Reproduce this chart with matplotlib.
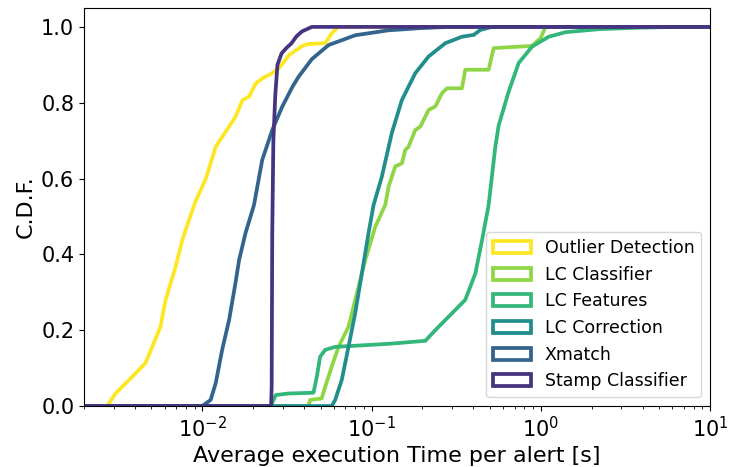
import numpy as np
import matplotlib
matplotlib.use("Agg")
from matplotlib import pyplot as plt
from matplotlib.patches import Patch

# execution time per alert [s] and cumulative fraction for each pipeline step
outlier_t = [2e-3, 2.74e-3, 3.07e-3, 3.85e-3, 4.61e-3, 5.06e-3, 5.66e-3, 6.07e-3, 6.95e-3,
             7.62e-3, 8.34e-3, 9.12e-3, 0.0105, 0.0120, 0.0144, 0.0157, 0.0173, 0.0189,
             0.0207, 0.0226, 0.0259, 0.0284, 0.0326, 0.0391, 0.0424, 0.0532, 0.0582,
             0.0638, 10.0]
outlier_cdf = [0.0, 0.0, 0.033, 0.077, 0.113, 0.156, 0.209, 0.28, 0.367,
               0.438, 0.49, 0.54, 0.60, 0.684, 0.737, 0.763, 0.807, 0.816,
               0.851, 0.864, 0.878, 0.891, 0.926, 0.95, 0.955, 0.957, 0.983,
               1.0, 1.0]

lc_classifier_t = [2e-3, 0.0424, 0.0434, 0.0508, 0.0532, 0.0582, 0.0638, 0.0731, 0.0801,
                   0.0919, 0.1052, 0.1205, 0.1262, 0.1381, 0.1511, 0.1582, 0.1655, 0.1814,
                   0.1943, 0.2175, 0.2381, 0.2608, 0.2791, 0.342, 0.358, 0.492, 0.527,
                   0.889, 0.996, 1.067, 10.0]
lc_classifier_cdf = [0.0, 0.0, 0.016, 0.02, 0.05, 0.104, 0.156, 0.209, 0.28,
                     0.385, 0.473, 0.53, 0.579, 0.632, 0.64, 0.675, 0.684, 0.728,
                     0.737, 0.781, 0.79, 0.825, 0.838, 0.838, 0.887, 0.887, 0.944,
                     0.95, 0.97, 1.0, 1.0]

lc_features_t = [2e-3, 0.0254, 0.0272, 0.0323, 0.0454, 0.0475, 0.0497, 0.0532, 0.0610,
                 0.0801, 0.126, 0.208, 0.238, 0.286, 0.358, 0.411, 0.450, 0.492, 0.539,
                 0.564, 0.647, 0.741, 0.889, 1.114, 1.40, 2.20, 3.80, 6.56, 10.0]
lc_features_cdf = [0.0, 0.0, 0.029, 0.033, 0.035, 0.077, 0.13, 0.148, 0.156,
                   0.159, 0.164, 0.172, 0.2, 0.236, 0.28, 0.35, 0.438, 0.53, 0.684,
                   0.74, 0.83, 0.905, 0.948, 0.974, 0.986, 0.994, 0.998, 1.0, 1.0]

lc_correction_t = [2e-3, 0.0582, 0.0610, 0.0667, 0.0731, 0.0801, 0.0877, 0.0960, 0.1028,
                   0.1151, 0.1318, 0.1511, 0.1814, 0.2175, 0.2729, 0.342, 0.402, 0.440,
                   0.515, 10.0]
lc_correction_cdf = [0.0, 0.0, 0.016, 0.069, 0.156, 0.245, 0.35, 0.456, 0.53,
                     0.605, 0.72, 0.807, 0.878, 0.922, 0.957, 0.974, 0.979, 0.992,
                     1.0, 1.0]

xmatch_t = [2e-3, 0.0100, 0.0112, 0.0120, 0.0131, 0.0144, 0.0157, 0.0165, 0.0180, 0.0202,
            0.0226, 0.0259, 0.0297, 0.0341, 0.0370, 0.0444, 0.0557, 0.0802, 0.126,
            0.198, 0.286, 10.0]
xmatch_cdf = [0.0, 0.0, 0.016, 0.06, 0.148, 0.227, 0.324, 0.385, 0.456, 0.53,
              0.649, 0.728, 0.79, 0.842, 0.868, 0.915, 0.952, 0.978, 0.991,
              0.997, 1.0, 1.0]

stamp_t = [2e-3, 0.0255, 0.0257, 0.0259, 0.0263, 0.0270, 0.0278, 0.0294, 0.0315, 0.0337,
           0.0360, 0.0388, 0.0444, 10.0]
stamp_cdf = [0.0, 0.0, 0.05, 0.45, 0.70, 0.82, 0.90, 0.93, 0.945, 0.957,
             0.975, 0.988, 1.0, 1.0]

labels = ['Outlier Detection', 'LC Classifier', 'LC Features', 'LC Correction',
          'Xmatch', 'Stamp Classifier']
times = [outlier_t, lc_classifier_t, lc_features_t, lc_correction_t, xmatch_t, stamp_t]
cdfs = [outlier_cdf, lc_classifier_cdf, lc_features_cdf, lc_correction_cdf, xmatch_cdf, stamp_cdf]
colors = plt.cm.viridis(np.linspace(1.0, 0.15, len(labels)))

fig = plt.figure(figsize=(7.33, 4.67), dpi=100)
ax = fig.add_axes([0.1146, 0.1306, 0.854, 0.8524])

handles = []
for t, c, lab, col in zip(times, cdfs, labels, colors):
    ax.plot(t, c, color=col, lw=2.7)
    handles.append(Patch(facecolor='none', edgecolor=col, linewidth=2.7, label=lab))

ax.set_xscale('log')
ax.set_xlim(2e-3, 10)
ax.set_ylim(0, 1.05)
ax.set_xlabel('Average execution Time per alert [s]', fontsize=16)
ax.set_ylabel('C.D.F.', fontsize=16)
ax.tick_params(axis='both', which='major', labelsize=15)
ax.legend(handles=handles, loc='lower right', fontsize=12.5, handlelength=2.2)

fig.savefig('out.png', dpi=100)
